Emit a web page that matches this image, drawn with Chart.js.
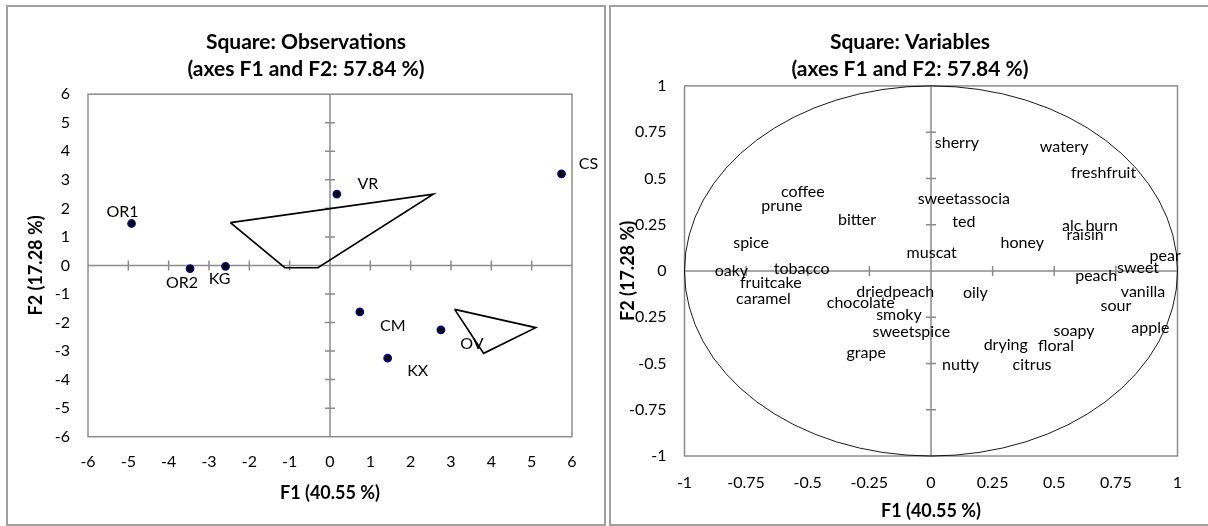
<!DOCTYPE html>
<html>
<head>
<meta charset="utf-8">
<title>PCA squares F1 x F2</title>
<script src="https://cdn.jsdelivr.net/npm/chart.js@4.4.1/dist/chart.umd.min.js"></script>
<style>
  html, body { margin: 0; padding: 0; background: #fff; }
  body { position: relative; width: 1208px; height: 526px; overflow: hidden; }
  .panel { position: absolute; top: 5px; height: 521px; box-sizing: border-box; border: 2px solid #a0a0a0; }
  #panelObs { left: 6px; width: 600px; }
  #panelVar { left: 609px; width: 610px; }
  canvas { position: absolute; top: 7px; }
  #obsChart { left: 8px; }
  #varChart { left: 612px; }
</style>
</head>
<body>
<div class="panel" id="panelObs"></div>
<div class="panel" id="panelVar"></div>
<canvas id="obsChart" width="596" height="517"></canvas>
<canvas id="varChart" width="596" height="517"></canvas>
<script>
// ---- observations (factor scores) ----
const obsNames = ['OR1', 'VR', 'CS', 'OR2', 'KG', 'CM', 'OV', 'KX'];
const obsF1 = [-4.92, 0.17, 5.74, -3.47, -2.59, 0.74, 2.75, 1.43];
const obsF2 = [1.47, 2.50, 3.21, -0.11, -0.03, -1.63, -2.26, -3.25];

// outlines drawn on the observation map
const outlineAF1 = [-2.47, -1.12, -0.30, 2.56, -2.47];
const outlineAF2 = [1.50, -0.08, -0.08, 2.50, 1.50];
const outlineBF1 = [3.09, 5.10, 3.81, 3.09];
const outlineBF2 = [-1.54, -2.18, -3.08, -1.54];

const obsTicks = [-6, -5, -4, -3, -2, -1, 0, 1, 2, 3, 4, 5, 6];

// ---- variables (correlations with F1 / F2) ----
const varNames = ['sherry', 'watery', 'freshfruit', 'coffee', 'prune', 'sweetassocia\nted', 'bitter',
  'alc burn', 'raisin', 'spice', 'honey', 'muscat', 'pear', 'oaky', 'tobacco', 'fruitcake', 'caramel',
  'driedpeach', 'chocolate', 'oily', 'smoky', 'sweetspice', 'grape', 'nutty', 'drying', 'floral',
  'citrus', 'soapy', 'apple', 'sour', 'vanilla', 'peach', 'sweet'];
const varF1 = [0.105, 0.54, 0.70, -0.52, -0.605, 0.133, -0.30,
  0.645, 0.625, -0.73, 0.37, 0.003, 0.95, -0.81, -0.525, -0.65, -0.68,
  -0.145, -0.285, 0.18, -0.13, -0.08, -0.263, 0.12, 0.303, 0.507,
  0.41, 0.58, 0.89, 0.75, 0.86, 0.67, 0.84];
const varF2 = [0.69, 0.67, 0.53, 0.425, 0.353, 0.329, 0.274,
  0.245, 0.195, 0.152, 0.152, 0.10, 0.08, 0.0, 0.01, -0.066, -0.152,
  -0.112, -0.17, -0.12, -0.238, -0.33, -0.44, -0.51, -0.40, -0.403,
  -0.508, -0.323, -0.305, -0.19, -0.112, -0.026, 0.019];

const varTicks = [-1, -0.75, -0.5, -0.25, 0, 0.25, 0.5, 0.75, 1];

// pixel nudges for the observation names
const obsLabelShift = {
  OR1: [-9, -12], VR: [31, -10], CS: [27, -10], OR2: [-8, 14],
  KG: [-6, 13], CM: [33, 14], OV: [31, 14], KX: [30, 13]
};

const FONT = 'Lato, "Open Sans", sans-serif';
Chart.defaults.font.family = FONT;
Chart.defaults.color = '#000';

// plot frame, axes through the origin with small cross ticks, optional unit circle
const crossAxes = {
  id: 'crossAxes',
  beforeDatasetsDraw(chart, args, opts) {
    const { ctx, chartArea: a, scales: { x, y } } = chart;
    const x0 = x.getPixelForValue(0);
    const y0 = y.getPixelForValue(0);
    ctx.save();
    ctx.strokeStyle = '#8c8c8c';
    ctx.lineWidth = 1.5;
    ctx.strokeRect(a.left, a.top, a.width, a.height);
    ctx.beginPath();
    ctx.moveTo(a.left, y0); ctx.lineTo(a.right, y0);
    ctx.moveTo(x0, a.top); ctx.lineTo(x0, a.bottom);
    x.ticks.forEach(t => {
      if (t.value === 0 || t.value === x.min || t.value === x.max) return;
      const p = x.getPixelForValue(t.value);
      ctx.moveTo(p, y0 - 5); ctx.lineTo(p, y0 + 5);
    });
    y.ticks.forEach(t => {
      if (t.value === 0 || t.value === y.min || t.value === y.max) return;
      const p = y.getPixelForValue(t.value);
      ctx.moveTo(x0 - 5, p); ctx.lineTo(x0 + 5, p);
    });
    ctx.stroke();
    if (opts.circle) {
      ctx.strokeStyle = '#000';
      ctx.lineWidth = 0.9;
      ctx.beginPath();
      ctx.ellipse(x0, y0, x.getPixelForValue(1) - x0, y0 - y.getPixelForValue(1), 0, 0, Math.PI * 2);
      ctx.stroke();
    }
    ctx.restore();
  }
};

// text next to each point of the first dataset
const pointNames = {
  id: 'pointNames',
  afterDatasetsDraw(chart, args, opts) {
    const { ctx } = chart;
    const meta = chart.getDatasetMeta(0);
    ctx.save();
    ctx.font = '16px ' + FONT;
    ctx.fillStyle = '#000';
    ctx.textAlign = 'center';
    ctx.textBaseline = 'middle';
    opts.names.forEach((name, i) => {
      const pt = meta.data[i];
      const [dx, dy] = (opts.shift && opts.shift[name]) || [0, 0];
      const lines = name.split('\n');
      lines.forEach((ln, k) => {
        ctx.fillText(ln, pt.x + dx, pt.y + dy + (k - (lines.length - 1) / 2) * opts.lineGap);
      });
    });
    ctx.restore();
  }
};

function squareScales(ticks, o) {
  const tickFont = { size: 16 };
  const titleFont = { size: 18, weight: 'bold' };
  const fromList = s => { s.ticks = ticks.map(v => ({ value: v })); };
  return {
    x: {
      type: 'linear', min: ticks[0], max: ticks[ticks.length - 1],
      afterBuildTicks: fromList,
      afterFit: s => { s.height = o.xHeight; },
      grid: { display: false, drawTicks: false }, border: { display: false },
      ticks: { padding: o.xPad, font: tickFont, maxRotation: 0, autoSkip: false, callback: v => String(v) },
      title: { display: true, text: 'F1 (40.55 %)', font: titleFont, padding: 0 }
    },
    y: {
      type: 'linear', min: ticks[0], max: ticks[ticks.length - 1],
      afterBuildTicks: fromList,
      afterFit: s => { s.width = o.yWidth; },
      grid: { display: false, drawTicks: false }, border: { display: false },
      ticks: { padding: 18, font: tickFont, autoSkip: false, callback: v => String(v) },
      title: { display: true, text: 'F2 (17.28 %)', font: titleFont, padding: { top: o.yTitlePad, bottom: 0 } }
    },
    // empty right-hand strip so the chart title stays centred on the whole panel
    spacer: {
      type: 'linear', position: 'right', display: true,
      afterFit: s => { s.width = o.rightGap; },
      grid: { display: false, drawTicks: false }, border: { display: false },
      ticks: { display: false }
    }
  };
}

function squareTitle(text, padBottom) {
  return {
    display: true,
    text: [text, '(axes F1 and F2: 57.84 %)'],
    color: '#000',
    font: { size: 21, weight: 'bold', lineHeight: '26.6px' },
    padding: { top: 22.4, bottom: padBottom }
  };
}

new Chart(document.getElementById('obsChart'), {
  type: 'scatter',
  data: {
    datasets: [
      {
        label: 'Observations',
        data: obsNames.map((n, i) => ({ x: obsF1[i], y: obsF2[i] })),
        pointRadius: 3.6, borderWidth: 1.6,
        backgroundColor: '#000', borderColor: '#0b0b80'
      },
      {
        label: 'outline A',
        data: outlineAF1.map((v, i) => ({ x: v, y: outlineAF2[i] })),
        showLine: true, pointRadius: 0, borderColor: '#000', borderWidth: 1.7, tension: 0
      },
      {
        label: 'outline B',
        data: outlineBF1.map((v, i) => ({ x: v, y: outlineBF2[i] })),
        showLine: true, pointRadius: 0, borderColor: '#000', borderWidth: 1.7, tension: 0
      }
    ]
  },
  options: {
    responsive: false, animation: false, devicePixelRatio: 1,
    layout: { padding: { left: 0, right: 0, top: 0, bottom: 20.2 } },
    scales: squareScales(obsTicks, { xHeight: 67.1, xPad: 15.7, yWidth: 80, yTitlePad: 17.2, rightGap: 32 }),
    plugins: {
      legend: { display: false },
      tooltip: { enabled: false },
      title: squareTitle('Square: Observations', 11.6),
      crossAxes: { circle: false },
      pointNames: { names: obsNames, shift: obsLabelShift, lineGap: 17 }
    }
  },
  plugins: [crossAxes, pointNames]
});

new Chart(document.getElementById('varChart'), {
  type: 'scatter',
  data: {
    datasets: [{
      label: 'Variables',
      data: varNames.map((n, i) => ({ x: varF1[i], y: varF2[i] })),
      pointRadius: 0
    }]
  },
  options: {
    responsive: false, animation: false, devicePixelRatio: 1,
    layout: { padding: { left: 0, right: 0, top: 0, bottom: 1.9 } },
    scales: squareScales(varTicks, { xHeight: 66.1, xPad: 17.4, yWidth: 72.5, yTitlePad: 5.2, rightGap: 30.5 }),
    plugins: {
      legend: { display: false },
      tooltip: { enabled: false },
      title: squareTitle('Square: Variables', 3.3),
      crossAxes: { circle: true },
      pointNames: { names: varNames, lineGap: 22.7 }
    }
  },
  plugins: [crossAxes, pointNames]
});
</script>
</body>
</html>
